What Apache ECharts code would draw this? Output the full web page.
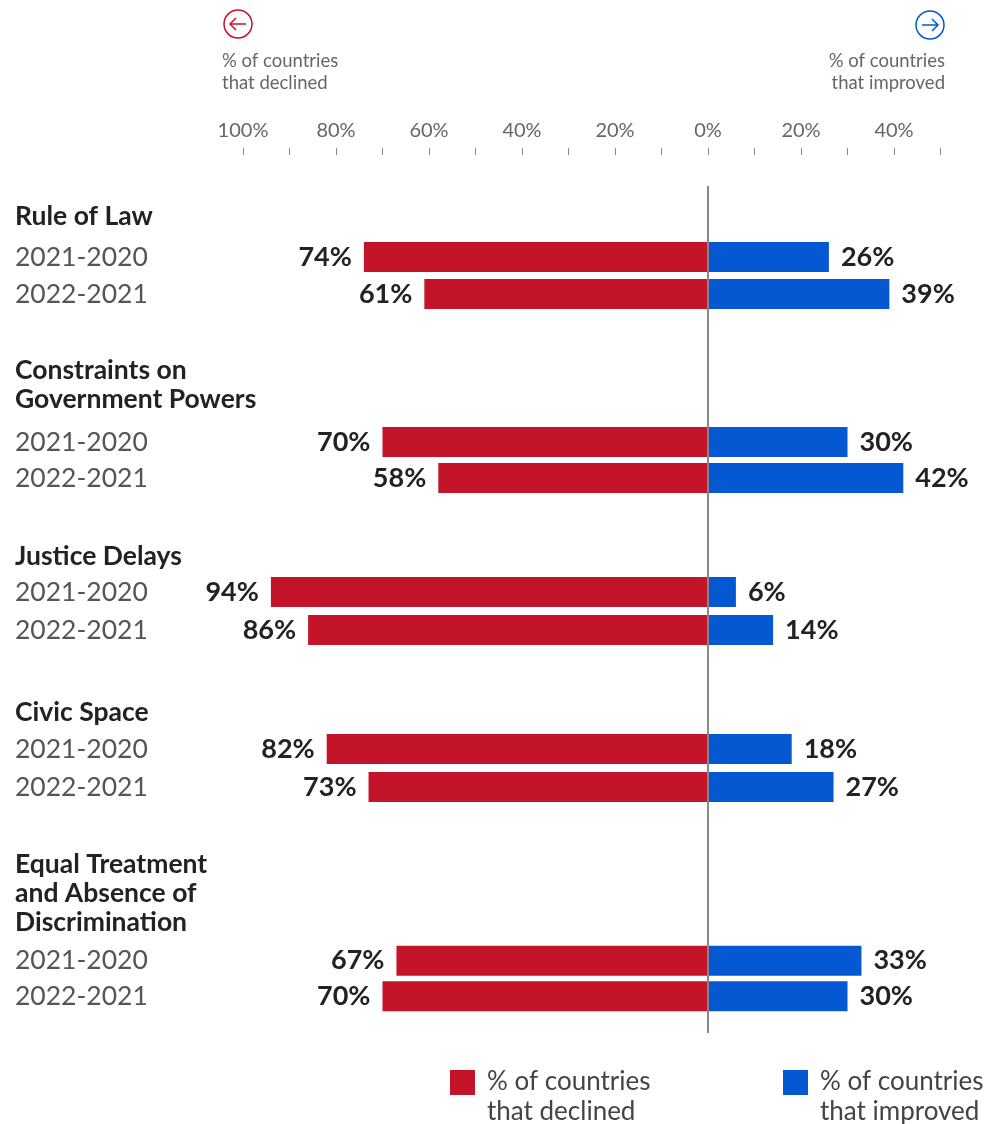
<!DOCTYPE html>
<html>
<head>
<meta charset="utf-8">
<script src="https://cdn.jsdelivr.net/npm/echarts@6/dist/echarts.min.js"></script>
<style>
  html, body { margin: 0; padding: 0; background: #fff; }
  #chart { width: 1002px; height: 1124px; }
</style>
</head>
<body>
<div id="chart"></div>
<script>
// data
const groups = [
	'Rule of Law',
	'Constraints on\nGovernment Powers',
	'Justice Delays',
	'Civic Space',
	'Equal Treatment\nand Absence of\nDiscrimination'
];
const periods = [ '2021-2020', '2022-2021' ];
// % of countries that declined, per group: [2021-2020, 2022-2021]
const declined = [ [ 74, 61 ], [ 70, 58 ], [ 94, 86 ], [ 82, 73 ], [ 67, 70 ] ];
// % of countries that improved
const improved = [ [ 26, 39 ], [ 30, 42 ], [ 6, 14 ], [ 18, 27 ], [ 33, 30 ] ];
const legendNames = [ '% of countries\nthat declined', '% of countries\nthat improved' ];

const RED = '#c41429';
const BLUE = '#0558d1';
const FONT = 'Lato';

// where each block sits on the page (header top, bar rows top, rows height)
const layout = [
	{ head: 202, top: 238.5, height: 74 },
	{ head: 356, top: 424, height: 72 },
	{ head: 542, top: 573, height: 76 },
	{ head: 698, top: 730, height: 76 },
	{ head: 850, top: 943, height: 71 }
];
const plotLeft = 243;
const plotRight = 61.5;

const pct = ( v ) => Math.abs( v ) + '%';

const grid = [ { left: plotLeft, right: plotRight, top: 186, bottom: 91, outerBoundsMode: 'none' } ];
const xAxis = [ {
	gridIndex: 0,
	type: 'value',
	min: -100,
	max: 50,
	interval: 10,
	position: 'top',
	offset: 31,
	axisLine: { show: false, onZero: false },
	axisTick: { show: true, length: 7, lineStyle: { color: '#888', width: 1 } },
	splitLine: { show: false },
	axisLabel: {
		margin: 14,
		color: '#666',
		fontSize: 20,
		fontFamily: FONT,
		formatter: ( v ) => v % 20 === 0 ? pct( v ) : ''
	}
} ];
const yAxis = [ { gridIndex: 0, type: 'value', min: 0, max: 1, show: false } ];
const series = [ {
	type: 'line',
	xAxisIndex: 0,
	yAxisIndex: 0,
	data: [],
	z: 10,
	markLine: {
		silent: true,
		symbol: 'none',
		label: { show: false },
		lineStyle: { color: '#888', width: 2, type: 'solid' },
		data: [ { xAxis: 0 } ]
	}
} ];

const barLabel = ( position ) => ( {
	show: true,
	position,
	distance: 12,
	formatter: ( p ) => pct( p.value ),
	fontFamily: FONT,
	fontWeight: 'bold',
	fontSize: 27,
	color: '#222'
} );

groups.forEach( ( g, i ) => {
	const k = i + 1;
	const l = layout[ i ];
	grid.push( { left: plotLeft, right: plotRight, top: l.top, height: l.height, outerBoundsMode: 'none' } );
	xAxis.push( { gridIndex: k, type: 'value', min: -100, max: 50, show: false } );
	yAxis.push( {
		gridIndex: k,
		type: 'category',
		data: periods,
		inverse: true,
		axisLine: { show: false },
		axisTick: { show: false },
		axisLabel: { margin: plotLeft - 15, align: 'left', fontSize: 26.5, color: '#555', fontFamily: FONT }
	} );
	series.push( {
		name: legendNames[ 0 ],
		type: 'bar',
		xAxisIndex: k,
		yAxisIndex: k,
		stack: 'g' + k,
		barWidth: 30,
		data: declined[ i ].map( ( v ) => -v ),
		itemStyle: { color: RED },
		label: barLabel( 'left' )
	} );
	series.push( {
		name: legendNames[ 1 ],
		type: 'bar',
		xAxisIndex: k,
		yAxisIndex: k,
		stack: 'g' + k,
		barWidth: 30,
		data: improved[ i ],
		itemStyle: { color: BLUE },
		label: barLabel( 'right' )
	} );
} );

const title = groups.map( ( g, i ) => ( {
	text: g,
	left: 15,
	top: layout[ i ].head,
	padding: 0,
	textStyle: { fontFamily: FONT, fontWeight: 'bold', fontSize: 26.5, lineHeight: 29, color: '#222' }
} ) );

const arrowIcon = ( cx, cy, dir, color ) => ( {
	type: 'group',
	children: [
		{ type: 'circle', shape: { cx, cy, r: 14 }, style: { fill: 'none', stroke: color, lineWidth: 1.5 } },
		{ type: 'line', shape: { x1: cx - 8, y1: cy, x2: cx + 8, y2: cy }, style: { stroke: color, lineWidth: 1.5 } },
		{
			type: 'polyline',
			shape: { points: [ [ cx + dir * 2, cy - 6 ], [ cx + dir * 8, cy ], [ cx + dir * 2, cy + 6 ] ] },
			style: { fill: 'none', stroke: color, lineWidth: 1.5 }
		}
	]
} );

const legendItem = ( x, color, text ) => ( {
	type: 'group',
	children: [
		{ type: 'rect', shape: { x, y: 1070, width: 25, height: 25 }, style: { fill: color } },
		{
			type: 'text',
			style: {
				x: x + 37, y: 1067, text, fill: '#444', fontFamily: FONT, fontSize: 26,
				lineHeight: 30, verticalAlign: 'top'
			}
		}
	]
} );

const graphic = [
	arrowIcon( 238, 24, -1, RED ),
	arrowIcon( 930, 25, 1, BLUE ),
	{
		type: 'text',
		style: {
			x: 222, y: 50, text: legendNames[ 0 ], fill: '#666', fontFamily: FONT,
			fontSize: 18.5, lineHeight: 22, verticalAlign: 'top'
		}
	},
	{
		type: 'text',
		style: {
			x: 945, y: 50, text: legendNames[ 1 ], fill: '#666', fontFamily: FONT,
			fontSize: 18.5, lineHeight: 22, verticalAlign: 'top', align: 'right'
		}
	},
	legendItem( 450, RED, legendNames[ 0 ] ),
	legendItem( 783, BLUE, legendNames[ 1 ] )
];

const chart = echarts.init( document.getElementById( 'chart' ), null, { renderer: 'canvas' } );
chart.setOption( {
	animation: false,
	backgroundColor: '#fff',
	title,
	grid,
	xAxis,
	yAxis,
	series,
	graphic
} );
</script>
</body>
</html>
